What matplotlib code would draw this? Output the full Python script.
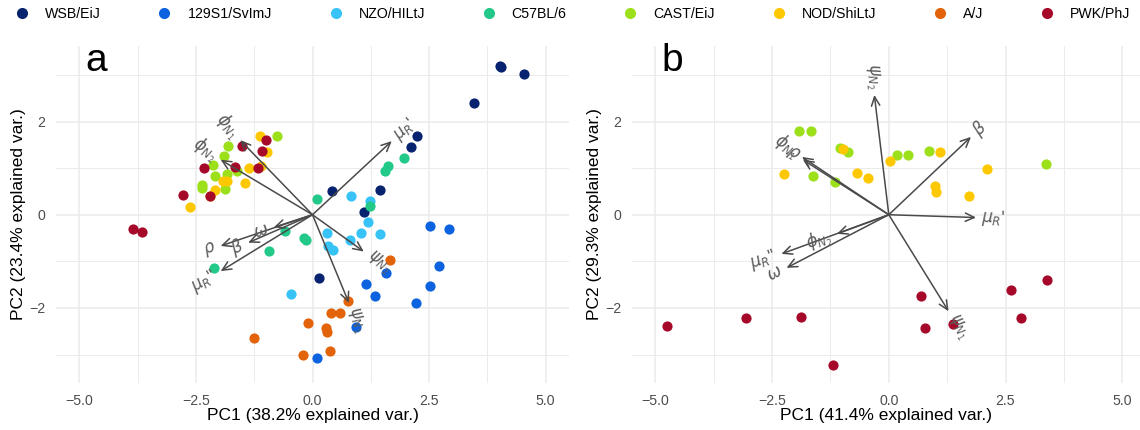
import numpy as np
import matplotlib.pyplot as plt
from matplotlib.lines import Line2D

plt.rcParams['font.family'] = ['Liberation Sans', 'DejaVu Sans']
plt.rcParams['mathtext.fontset'] = 'dejavusans'

strains = ['WSB/EiJ', '129S1/SvImJ', 'NZO/HILtJ', 'C57BL/6',
           'CAST/EiJ', 'NOD/ShiLtJ', 'A/J', 'PWK/PhJ']
strain_colors = ['#07226e', '#0d63df', '#38c3f6', '#22c988',
                 '#9be019', '#fdc800', '#e2630a', '#a6082a']

# ---- panel a : scores (PC1, PC2) per strain
a_wsb_x = [4.02, 4.04, 4.54, 3.46, 2.24, 2.11, 1.45, 0.41, 1.10, 0.15]
a_wsb_y = [3.20, 3.16, 3.02, 2.40, 1.68, 1.45, 0.52, 0.50, 0.06, -1.35]
a_129_x = [2.51, 2.92, 1.57, 2.72, 1.15, 2.51, 1.35, 2.21, 0.93, 0.09]
a_129_y = [-0.24, -0.30, -1.25, -1.09, -1.48, -1.52, -1.75, -1.90, -2.40, -3.08]
a_nzo_x = [0.82, 1.23, 1.18, 1.05, 1.45, 0.80, 0.31, 0.33, 0.43, -0.46]
a_nzo_y = [0.41, 0.30, -0.15, -0.39, -0.42, -0.55, -0.40, -0.67, -0.76, -1.71]
a_b6_x = [0.10, -0.58, -0.19, -0.14, -0.94, -2.12, 1.97, 1.61, 1.55, 1.23]
a_b6_y = [0.34, -0.35, -0.50, -0.55, -0.78, -1.14, 1.22, 1.04, 0.94, 0.18]
a_cast_x = [-2.14, -2.38, -2.38, -2.09, -1.89, -1.82, -1.83, -1.87, -1.62, -0.77]
a_cast_y = [1.07, 0.64, 0.58, 0.84, 1.27, 1.48, 0.88, 0.55, 0.94, 1.68]
a_nod_x = [-2.62, -2.10, -1.92, -1.83, -1.45, -1.36, -1.13, -0.97, -1.10, -2.19]
a_nod_y = [0.17, 0.54, 0.72, 0.73, 0.68, 1.01, 1.68, 1.34, 1.04, 0.40]
a_aj_x = [0.77, 0.39, 0.60, -0.09, 0.28, 0.32, -1.25, 1.67, 0.38, -0.20]
a_aj_y = [-1.86, -2.11, -2.11, -2.32, -2.43, -2.51, -2.65, -0.97, -2.93, -3.02]
a_pwk_x = [-3.85, -3.65, -2.77, -2.33, -2.19, -1.67, -1.52, -0.99, -1.08, -1.16]
a_pwk_y = [-0.30, -0.36, 0.43, 1.01, 0.40, 1.02, 1.47, 1.60, 1.36, 1.01]

# ---- panel a : loadings
a_vars = [r'$\phi_{N_1}$', r'$\phi_{N_2}$', r'$\omega$', r'$\rho$', r'$\beta$',
          r"$\mu_R$''", r'$\psi_{N_1}$', r'$\psi_{N_2}$', r"$\mu_R$'"]
a_load_x = [-1.55, -1.97, -0.83, -1.97, -1.38, -1.97, 0.78, 1.10, 1.70]
a_load_y = [1.60, 1.18, -0.27, -0.67, -0.60, -1.21, -1.89, -0.79, 1.58]

# ---- panel b : scores for CAST/EiJ, NOD/ShiLtJ, PWK/PhJ
b_cast_x = [-1.92, -1.66, -1.04, -0.87, -1.62, -1.16, 0.17, 0.42, 0.87, 3.36]
b_cast_y = [1.79, 1.79, 1.43, 1.35, 0.84, 0.71, 1.29, 1.29, 1.37, 1.08]
b_nod_x = [-0.99, -2.25, -0.69, -0.45, 0.03, 1.10, 2.11, 1.00, 1.02, 1.71]
b_nod_y = [1.41, 0.88, 0.89, 0.79, 1.16, 1.34, 0.99, 0.62, 0.49, 0.41]
b_pwk_x = [-4.75, -3.06, -1.89, -1.19, 0.68, 0.77, 1.37, 2.61, 3.38, 2.84]
b_pwk_y = [-2.38, -2.21, -2.19, -3.22, -1.74, -2.44, -2.35, -1.61, -1.41, -2.21]

# ---- panel b : loadings
b_vars = [r'$\psi_{N_2}$', r'$\phi_{N_1}$', r'$\rho$', r'$\phi_{N_2}$', r"$\mu_R$''",
          r'$\omega$', r'$\beta$', r"$\mu_R$'", r'$\psi_{N_1}$']
b_load_x = [-0.31, -1.86, -1.84, -1.11, -2.30, -2.19, 1.76, 1.87, 1.28]
b_load_y = [2.57, 1.24, 1.18, -0.41, -0.84, -1.14, 1.67, -0.06, -2.07]

a_xlabel = 'PC1 (38.2% explained var.)'
a_ylabel = 'PC2 (23.4% explained var.)'
b_xlabel = 'PC1 (41.4% explained var.)'
b_ylabel = 'PC2 (29.3% explained var.)'

a_groups = [(a_wsb_x, a_wsb_y, 0), (a_129_x, a_129_y, 1), (a_nzo_x, a_nzo_y, 2),
            (a_b6_x, a_b6_y, 3), (a_cast_x, a_cast_y, 4), (a_nod_x, a_nod_y, 5),
            (a_aj_x, a_aj_y, 6), (a_pwk_x, a_pwk_y, 7)]
b_groups = [(b_cast_x, b_cast_y, 4), (b_nod_x, b_nod_y, 5), (b_pwk_x, b_pwk_y, 7)]

W, H = 1140, 430
fig = plt.figure(figsize=(W / 100, H / 100), dpi=100)

arrow_col = '#4a4a4a'
label_col = '#5c5c5c'
tick_col = '#4d4d4d'


def px_axes(left, right, top, bottom):
    return fig.add_axes([left / W, 1 - bottom / H, (right - left) / W, (bottom - top) / H])


def draw_panel(ax, groups, names, lx, ly, xlim, ylim, xlabel, ylabel, letter, ylab_x):
    for xs, ys, k in groups:
        ax.scatter(xs, ys, s=54, color=strain_colors[k], linewidths=0, zorder=2)
    for name, x, y in zip(names, lx, ly):
        ax.annotate('', xy=(x, y), xytext=(0, 0),
                    arrowprops=dict(arrowstyle='->,head_length=0.65,head_width=0.3',
                                    color=arrow_col, lw=1.1, shrinkA=0, shrinkB=0),
                    zorder=3)
        ang = np.degrees(np.arctan(y / x))
        r = np.hypot(x, y)
        tx, ty = x + 0.12 * x / r, y + 0.12 * y / r
        ax.text(tx, ty, name, rotation=ang, rotation_mode='anchor',
                ha='left' if x > 0 else 'right', va='center',
                fontsize=12, color=label_col, zorder=4)
    ax.set_xlim(*xlim)
    ax.set_ylim(*ylim)
    ax.set_xticks([-5, -2.5, 0, 2.5, 5])
    ax.set_xticks([-3.75, -1.25, 1.25, 3.75], minor=True)
    ax.set_yticks([-2, 0, 2])
    ax.set_yticks([-3, -1, 1, 3], minor=True)
    ax.set_xticklabels(['\u22125.0', '\u22122.5', '0.0', '2.5', '5.0'])
    ax.set_yticklabels(['\u22122', '0', '2'])
    ax.grid(which='major', color='#ebebeb', lw=1.1)
    ax.grid(which='minor', color='#ebebeb', lw=0.7)
    ax.set_axisbelow(True)
    for s in ax.spines.values():
        s.set_visible(False)
    ax.tick_params(which='both', length=0, pad=8, labelsize=10.2, labelcolor=tick_col)
    ax.set_xlabel(xlabel, fontsize=12.5, va='center')
    ax.xaxis.set_label_coords(0.5, -0.095)
    ax.set_ylabel(ylabel, fontsize=12.5, va='center')
    ax.yaxis.set_label_coords(ylab_x, 0.5)
    ax.text(-4.86, 3.08, letter, fontsize=28, ha='left', va='baseline', zorder=5)


ax_a = px_axes(56, 569, 46, 383)
draw_panel(ax_a, a_groups, a_vars, a_load_x, a_load_y, (-5.5, 5.5), (-3.61, 3.62),
           a_xlabel, a_ylabel, 'a', -0.074)

ax_b = px_axes(632, 1140, 46, 383)
draw_panel(ax_b, b_groups, b_vars, b_load_x, b_load_y, (-5.5, 5.38), (-3.61, 3.62),
           b_xlabel, b_ylabel, 'b', -0.073)

handles = [Line2D([], [], marker='o', ls='', color=c, markeredgewidth=0, markersize=8)
           for c in strain_colors]
fig.legend(handles, strains, loc='center left', bbox_to_anchor=(14.8 / W, 1 - 14 / H),
           ncol=8, frameon=False, fontsize=10.2, handlelength=1.0, handletextpad=1.12,
           columnspacing=4.0, borderpad=0, borderaxespad=0)

fig.savefig('out.png', dpi=100)
